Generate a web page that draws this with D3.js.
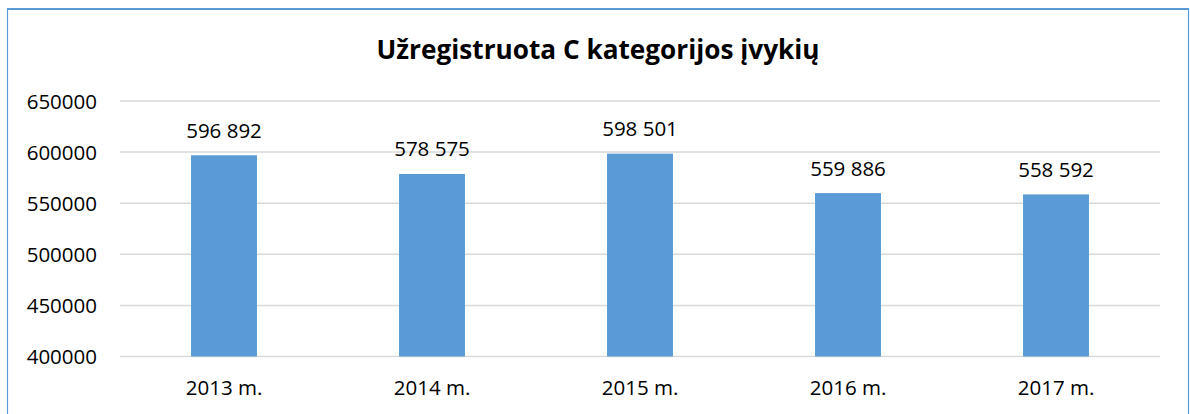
<!DOCTYPE html>
<html><head><meta charset="utf-8">
<script src="https://cdn.jsdelivr.net/npm/d3@7"></script>
<style>body{margin:0;background:#fff;}svg{display:block;}</style>
</head><body>
<svg id="c" width="1190" height="414"></svg>
<script>
const categories = ["2013 m.", "2014 m.", "2015 m.", "2016 m.", "2017 m."];
const values = [596892, 578575, 598501, 559886, 558592];
const yTicks = [400000, 450000, 500000, 550000, 600000, 650000];
const title = "Užregistruota C kategorijos įvykių";

(function () {
const svg = d3.select("#c");
const font = "'Open Sans', 'Noto Sans', sans-serif";
const blue = "#5B9BD5";

// outer chart border
svg.append("line").attr("x1", 7).attr("x2", 1189).attr("y1", 9).attr("y2", 9).attr("stroke", blue).attr("stroke-width", 2);
svg.append("line").attr("x1", 7.5).attr("x2", 7.5).attr("y1", 8).attr("y2", 414).attr("stroke", blue).attr("stroke-width", 1.2);
svg.append("line").attr("x1", 1188.5).attr("x2", 1188.5).attr("y1", 8).attr("y2", 414).attr("stroke", blue).attr("stroke-width", 1.2);

const pLeft = 120, pRight = 1160, pTop = 101, pBottom = 356.5;
const x = d3.scaleBand().domain(categories).range([pLeft, pRight]).paddingInner(0.683).paddingOuter(0.3415);
const y = d3.scaleLinear().domain([400000, 650000]).range([pBottom, pTop]);

// gridlines
svg.append("g").selectAll("line").data(yTicks).join("line")
  .attr("x1", pLeft).attr("x2", pRight)
  .attr("y1", d => y(d)).attr("y2", d => y(d))
  .attr("stroke", "#d9d9d9").attr("stroke-width", 1.5);

// y axis labels
const yAxis = d3.axisLeft(y).tickValues(yTicks).tickFormat(d3.format("d")).tickSize(0).tickPadding(0);
const gy = svg.append("g").attr("transform", "translate(97,0)").call(yAxis);
gy.select(".domain").remove();
gy.selectAll("text").attr("font-family", font).attr("font-size", 20.5).attr("fill", "#000").attr("dy", "0.35em");

// bars
svg.append("g").selectAll("rect").data(values).join("rect")
  .attr("x", (d, i) => x(categories[i]))
  .attr("width", x.bandwidth())
  .attr("y", d => y(d))
  .attr("height", d => pBottom - y(d))
  .attr("fill", blue);

// value labels
const fmt = v => d3.format(",")(v).replace(/,/g, " ");
svg.append("g").selectAll("text").data(values).join("text")
  .attr("x", (d, i) => x(categories[i]) + x.bandwidth() / 2)
  .attr("y", d => y(d) - 17.5)
  .attr("text-anchor", "middle")
  .attr("font-family", font).attr("font-size", 20.5).attr("fill", "#000")
  .text(fmt);

// x axis labels
const xAxis = d3.axisBottom(x).tickSize(0).tickPadding(0);
const gx = svg.append("g").attr("transform", "translate(0,395)").call(xAxis);
gx.select(".domain").remove();
gx.selectAll("text").attr("font-family", font).attr("font-size", 20.5).attr("fill", "#000").attr("dy", 0);

// title
const t = svg.append("text").attr("x", 598).attr("y", 59).attr("text-anchor", "middle")
  .attr("font-family", font).attr("font-weight", "bold").attr("font-size", 26).attr("fill", "#000")
  .text(title);
const w = t.node().getComputedTextLength();
t.attr("font-size", 26 * 443 / w);
})();
</script>
</body></html>
